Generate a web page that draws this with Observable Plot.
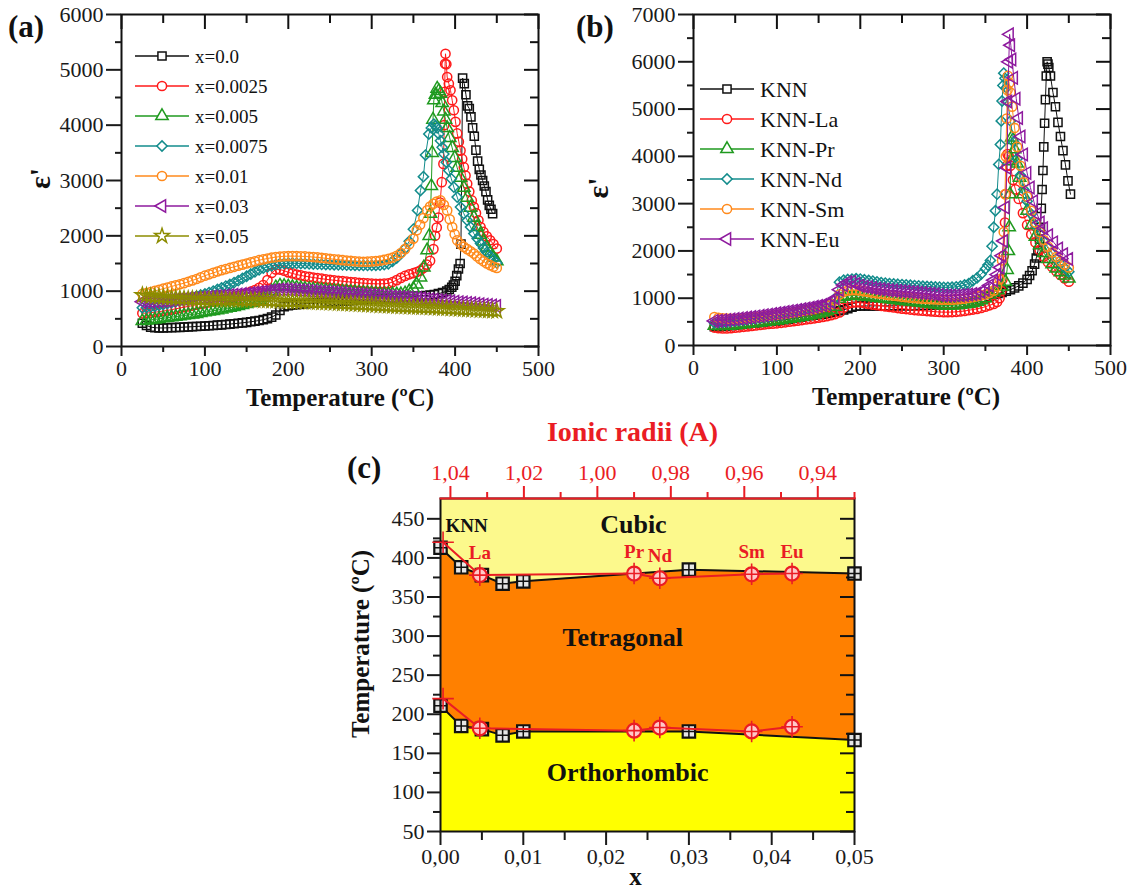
<!DOCTYPE html>
<html><head><meta charset="utf-8">
<script src="https://cdn.jsdelivr.net/npm/d3@7"></script>
<script src="https://cdn.jsdelivr.net/npm/@observablehq/plot@0.6"></script>
<style>
body{margin:0;background:#fff;}
#fig{position:relative;width:1134px;height:890px;overflow:hidden;background:#fff;font-family:"Liberation Serif","Times New Roman",serif;color:#111;}
#fig svg, #fig svg text{font-family:"Liberation Serif","Times New Roman",serif !important;}
.panel{position:absolute;}
.panel svg{overflow:visible;}
.letter{position:absolute;font-weight:bold;font-size:31px;line-height:31px;font-family:"Liberation Serif",serif;color:#111;}
</style></head><body><div id="fig"></div>
<script>
// ---------------- DATA ----------------
const T_FLAT = [25,30,35,40,45,50,55,60,65,70,75,80,85,90,95,100,105,110,115,120,125,130,135,140,145,150,155,160,165,170,175,180,185,190,195,200,205,210,215,220,225,230,235,240,245,250,255,260,265,270,275,280,285,290,295,300,305,310,315,320,325,330,335,340,345,350];

// Panel (a)
const A_LABELS = ["x=0.0","x=0.0025","x=0.005","x=0.0075","x=0.01","x=0.03","x=0.05"];
const A_COLORS = ["#111111","#ff1a1a","#1f9a1f","#138c8c","#ff8a1c","#8e1a9e","#8c8c00"];
const A_SYMBOLS = ["square","circle","triangle","diamond2","circle","triangle","star"];
const A_ROTATE = [0,0,0,0,0,-90,0];

const A_x00_flat = [420,380,350,340,335, 335,338,340,343,346, 350,354,358,362,366, 370,375,380,386,392, 398,405,412,420,428, 437,447,458,470,485, 505,530,570,650,720, 740,750,758,765,772, 778,784,790,795,800, 805,810,815,820,825, 830,835,840,845,850, 855,860,865,870,875, 880,885,890,895,900, 905];
const A_x00_rest = [[355,910],[360,915],[365,920],[370,930],[375,940],[380,955],[385,975],[390,1000],[393,1030],[396,1070],[398,1110],[400,1180],[402,1280],[404,1400],[406,1500],[407,1850],[409,4850],[411,4750],[413,4550],[415,4350],[417,4300],[419,4150],[421,3950],[423,3800],[425,3550],[427,3350],[429,3200],[431,3100],[433,3000],[435,2900],[437,2800],[439,2650],[441,2550],[443,2480],[445,2400]];

const A_x0025_flat = [600,605,612,620,630, 640,652,665,680,695, 710,725,740,755,768, 780,795,810,826,842, 858,875,893,912,935, 960,990,1020,1060,1110, 1200,1330,1390,1390,1370, 1340,1320,1300,1285,1270, 1258,1246,1235,1225,1215, 1205,1196,1188,1180,1172, 1165,1158,1150,1145,1140, 1135,1133,1133,1135,1140, 1165,1200,1240,1275,1305, 1325];
const A_x0025_rest = [[354,1345],[358,1370],[362,1420],[366,1480],[370,1550],[374,1760],[376,2000],[378,2150],[380,2330],[382,2600],[384,2970],[386,3300],[387,4000],[387.5,4600],[388,5110],[388.5,5290],[389.5,5100],[390.5,4870],[392.5,4750],[394.5,4630],[396.5,4450],[398.5,4270],[400.5,4060],[402.5,3850],[404.5,3700],[406.5,3540],[408.5,3390],[410.5,3240],[412.5,3090],[414.5,2940],[417,2800],[420,2640],[422.5,2520],[425,2410],[428,2280],[430.5,2160],[434,2070],[438,1990],[442,1920],[446,1850],[450,1770]];

const A_x005_flat = [460,470,480,490,500, 510,520,530,540,550, 560,570,580,590,605, 620,632,645,658,672, 686,700,716,732,750, 770,790,815,845,880, 930,1000,1070,1100,1095, 1085,1075,1065,1055,1045, 1038,1031,1025,1020,1015, 1010,1005,1000,995,990, 985,980,975,970,965, 960,955,950,947,945, 944,943,945,960,1000, 1045];
const A_x005_rest = [[354,1120],[358.5,1250],[362.5,1430],[366.5,1740],[369,2000],[370.5,2400],[371.5,2900],[372.5,3500],[373.5,4100],[374.5,4450],[376.5,4550],[378.5,4660],[380.5,4620],[382.5,4570],[384.5,4400],[386.5,4250],[388.5,4100],[390.5,3950],[393.5,3770],[396.5,3590],[399.5,3410],[402.5,3230],[406.5,3050],[410.5,2870],[414.5,2690],[418.5,2510],[422.5,2330],[426.5,2160],[430,2020],[434,1900],[438,1790],[442,1690],[446,1610],[450,1540]];

const A_x0075_flat = [700,705,715,728,742, 758,775,792,810,830, 850,870,890,910,930, 950,975,1000,1030,1060, 1090,1120,1155,1190,1230, 1270,1310,1350,1385,1415, 1440,1460,1480,1495,1500, 1505,1505,1503,1500,1497, 1494,1491,1488,1485,1482, 1480,1478,1476,1474,1472, 1470,1468,1466,1465,1465, 1466,1468,1472,1480,1495, 1540,1600,1680,1770,1900, 2120];
const A_x0075_rest = [[355,2460],[358.5,2820],[362,3070],[364.5,3460],[368.5,3840],[371.5,3950],[374.5,4020],[376.5,3990],[378.5,3950],[380.5,3840],[382.5,3720],[384.5,3600],[386.5,3480],[389.5,3330],[392.5,3180],[395.5,3030],[398.5,2880],[402.5,2700],[406.5,2520],[410.5,2400],[414.5,2280],[418.5,2160],[422.5,2040],[426.5,1950],[430.5,1860],[434,1780],[438,1700],[442,1630],[446,1570],[450,1510]];

const A_x001_flat = [950,965,985,1005,1025, 1045,1065,1085,1105,1125, 1145,1170,1195,1220,1250, 1280,1305,1330,1355,1380, 1400,1420,1440,1460,1480, 1500,1520,1540,1560,1575, 1590,1605,1615,1625,1630, 1632,1633,1632,1630,1627, 1622,1616,1610,1602,1594, 1585,1577,1569,1561,1553, 1546,1540,1535,1532,1533, 1537,1543,1552,1565,1582, 1605,1640,1690,1760,1850, 1950];
const A_x001_rest = [[354,2100],[358,2200],[362,2320],[366.5,2460],[370,2530],[374,2580],[378,2620],[382.5,2640],[386.5,2560],[390.5,2460],[393.5,2300],[396.5,2160],[399.5,2030],[402.5,1920],[406.5,1850],[410.5,1800],[414.5,1760],[418.5,1720],[422.5,1680],[426,1630],[430,1580],[434,1540],[438,1500],[442,1470],[446,1440],[450,1420]];

const A_x003_flat = [810,812,815,820,825, 830,836,842,848,854, 860,866,872,878,884, 890,896,902,908,914, 920,927,934,941,948, 955,963,971,980,990, 1000,1010,1020,1028,1030, 1028,1025,1020,1015,1010, 1005,1000,995,990,985, 980,975,970,965,960, 955,950,945,940,935, 930,925,920,915,910, 905,900,895,890,885, 880];
const A_x003_rest = [[355,875],[360,868],[365,860],[370,852],[375,845],[380,838],[385,831],[390,824],[395,817],[400,810],[405,802],[410,795],[415,788],[420,780],[425,772],[430,764],[435,756],[440,748],[445,740],[450,730]];

const A_x005b_flat = [930,920,910,902,896, 890,885,880,875,870, 865,862,859,856,853, 850,849,848,847,846, 845,844,843,842,841, 840,838,836,834,832, 830,827,824,821,818, 815,813,811,809,807, 805,802,799,796,793, 790,786,782,778,774, 770,766,762,758,754, 750,746,742,738,734, 730,727,724,721,718, 715];
const A_x005b_rest = [[355,712],[360,709],[365,706],[370,703],[375,700],[380,696],[385,692],[390,688],[395,684],[400,680],[405,676],[410,672],[415,668],[420,664],[425,660],[430,656],[435,652],[440,648],[445,644],[450,640]];

// Panel (b)
const B_LABELS = ["KNN","KNN-La","KNN-Pr","KNN-Nd","KNN-Sm","KNN-Eu"];
const B_COLORS = ["#111111","#ff1a1a","#1f9a1f","#138c8c","#ff8a1c","#8e1a9e"];
const B_SYMBOLS = ["square","circle","triangle","diamond2","circle","triangle"];
const B_ROTATE = [0,0,0,0,0,-90];

const B_KNN_flat = [400,400,405,412,420, 430,440,450,460,470, 480,490,500,510,515, 520,532,545,558,572, 586,600,615,630,640, 650,665,680,700,720, 735,755,780,810,830, 835,836,837,838,838, 838,838,839,839,840, 840,841,842,843,845, 847,849,851,854,857, 860,865,872,880,890, 902,915,930,950,975, 1000];
const B_KNN_rest = [[355,1040],[360,1080],[365,1100],[370,1120],[375,1150],[380,1180],[385,1220],[390,1260],[395,1320],[400,1400],[403,1480],[406,1580],[409,1720],[411,1850],[413,2000],[415,2250],[416,2500],[417,2900],[418,3300],[419,3700],[420,4200],[421,4700],[422,5200],[423,5700],[424,6000],[425,5950],[426,5880],[428,5700],[431,5350],[434,5050],[437,4720],[440,4420],[443,4120],[446,3820],[449,3480],[452,3200]];

const B_La_flat = [380,365,360,360,365, 375,385,395,405,415, 425,435,445,455,462, 470,480,490,502,514, 526,538,550,562,575, 590,605,620,640,665, 700,800,880,905,913, 910,895,880,865,852, 840,828,816,804,792, 780,770,760,750,742, 735,728,722,715,708, 705,705,707,712,720, 730,745,760,775,795, 820];
const B_La_rest = [[355,850],[360,880],[364,920],[367,1000],[369,1150],[370.5,1400],[372,1900],[373.5,2600],[374.5,3200],[375.5,3800],[376.5,4050],[378,4000],[380,3800],[383,3500],[386,3300],[390,3100],[395,2800],[400,2550],[405,2350],[410,2180],[415,2020],[420,1880],[425,1760],[430,1660],[435,1570],[440,1490],[445,1420],[450,1350]];

const B_Pr_flat = [420,415,415,418,424, 430,440,450,460,470, 480,490,500,510,520, 530,542,555,568,582, 596,610,625,640,658, 678,700,725,760,820, 990,1030,1050,1058,1055, 1050,1040,1030,1020,1010, 1000,990,980,970,960, 950,940,930,920,910, 900,890,880,870,860, 850,848,850,855,862, 872,885,900,925,960, 1000];
const B_Pr_rest = [[355,1080],[360,1130],[365,1170],[370,1250],[374,1350],[376,1600],[377.5,2000],[378.5,2500],[379.5,3200],[380.5,3900],[381.5,4400],[383,4350],[385,4150],[388,3850],[391,3550],[395,3200],[400,2850],[405,2550],[410,2300],[415,2120],[420,1960],[425,1830],[430,1720],[435,1630],[440,1550],[445,1480],[450,1420]];

const B_Nd_flat = [480,485,492,500,510, 520,530,540,552,564, 576,588,600,613,626, 640,655,670,686,702, 718,735,752,770,790, 810,832,860,900,1000, 1340,1380,1395,1405,1412, 1405,1390,1375,1360,1345, 1330,1320,1310,1302,1295, 1288,1281,1274,1267,1260, 1254,1248,1243,1238,1233, 1230,1230,1232,1240,1255, 1280,1310,1370,1430,1510, 1620];
const B_Nd_rest = [[353,1700],[356,1800],[358,2100],[360,2500],[362,2850],[364,3200],[366,3830],[368,4250],[369,4750],[370,5170],[371,5500],[372,5760],[373.5,5650],[375,5450],[377,5150],[380,4750],[384,4300],[388,3950],[392,3600],[396,3300],[400,3050],[405,2780],[410,2550],[415,2360],[420,2200],[425,2060],[430,1940],[435,1830],[440,1730],[445,1640],[450,1560]];

const B_Sm_flat = [600,585,575,568,563, 560,565,572,580,590, 600,610,620,630,640, 650,662,675,688,702, 716,730,745,762,780, 800,822,848,880,950, 1080,1130,1160,1170,1170, 1160,1145,1130,1115,1100, 1090,1078,1066,1055,1043, 1030,1020,1012,1004,997, 990,984,978,973,970, 968,968,970,975,982, 992,1005,1020,1040,1060, 1080];
const B_Sm_rest = [[355,1110],[360,1160],[364,1250],[367,1400],[370,1800],[372,2400],[373.5,3200],[374.5,4000],[375.5,4800],[376.5,5400],[377,5700],[378.5,5550],[380,5350],[382,5050],[385,4600],[388,4200],[392,3800],[396,3450],[400,3150],[405,2850],[410,2600],[415,2400],[420,2230],[425,2090],[430,1970],[435,1870],[440,1780],[445,1710],[450,1650]];

const B_Eu_flat = [520,525,532,540,550, 560,570,580,592,604, 616,628,640,653,666, 680,694,708,722,737, 752,768,784,800,818, 836,856,880,920,1000, 1180,1280,1340,1345,1300, 1265,1245,1230,1215,1200, 1190,1180,1170,1162,1155, 1148,1140,1132,1124,1116, 1108,1100,1092,1084,1070, 1060,1058,1058,1060,1065, 1070,1078,1088,1100,1130, 1180];
const B_Eu_rest = [[355,1270],[360,1380],[364,1500],[368,1650],[370,1900],[372,2210],[374,2920],[376,3760],[377,5160],[378,6000],[379,6580],[380.5,6350],[382,6050],[384,5660],[387,5220],[390,4810],[393,4420],[396,4040],[400,3650],[404,3340],[408,3050],[412,2780],[416,2600],[420,2480],[426,2330],[432,2180],[438,2050],[444,1930],[450,1830]];

// Ticks (a) & (b)
const AB_XTICKS = [0,100,200,300,400,500];
const AB_XMINOR = [50,150,250,350,450];
const A_YTICKS = [0,1000,2000,3000,4000,5000,6000];
const A_YMINOR = [500,1500,2500,3500,4500,5500];
const B_YTICKS = [0,1000,2000,3000,4000,5000,6000,7000];
const B_YMINOR = [500,1500,2500,3500,4500,5500,6500];

// Panel (c)
const C_X = [0, 0.0025, 0.005, 0.0075, 0.01, 0.03, 0.05];
const C_TC = [413, 388, 378, 367, 370, 385, 380];
const C_TOT = [211, 185, 181, 173, 178, 178, 167];
const R_LABELS = ["KNN","La","Pr","Nd","Sm","Eu"];
const R_RADII = [1.042, 1.032, 0.990, 0.983, 0.958, 0.947];
const R_TC = [420, 378, 380, 374, 379, 380];
const R_TOT = [220, 182, 179, 183, 178, 184];
const C_XTICKS = [0, 0.01, 0.02, 0.03, 0.04, 0.05];
const C_XMINOR = [0.005, 0.015, 0.025, 0.035, 0.045];
const C_YTICKS = [50,100,150,200,250,300,350,400,450];
const C_YMINOR = [75,125,175,225,275,325,375,425];
const R_TICKS = [1.04, 1.02, 1.00, 0.98, 0.96, 0.94];
const R_MINOR = [1.03, 1.01, 0.99, 0.97, 0.95, 0.93];
const PHASE_LABELS = [
  {text:"Cubic", x:0.0233, T:443},
  {text:"Tetragonal", x:0.0220, T:298},
  {text:"Orthorhombic", x:0.0226, T:125}
];
const KNN_LABEL = [{text:"KNN", x:0.0006, T:441}];

// ---------------- BUILD ----------------
const fig = document.getElementById("fig");
const FONT = "'Liberation Serif', serif";
const RED = "#ea1c24";
function mkSeries(flat, rest) {
  return T_FLAT.map((T, i) => ({T, E: flat[i]})).concat(rest.map(([T, E]) => ({T, E})));
}
const A_DATA = [
  mkSeries(A_x00_flat, A_x00_rest), mkSeries(A_x0025_flat, A_x0025_rest),
  mkSeries(A_x005_flat, A_x005_rest), mkSeries(A_x0075_flat, A_x0075_rest),
  mkSeries(A_x001_flat, A_x001_rest), mkSeries(A_x003_flat, A_x003_rest),
  mkSeries(A_x005b_flat, A_x005b_rest)
];
const B_DATA = [
  mkSeries(B_KNN_flat, B_KNN_rest), mkSeries(B_La_flat, B_La_rest),
  mkSeries(B_Pr_flat, B_Pr_rest), mkSeries(B_Nd_flat, B_Nd_rest),
  mkSeries(B_Sm_flat, B_Sm_rest), mkSeries(B_Eu_flat, B_Eu_rest)
];

function place(el, left, top) {
  const d = document.createElement("div");
  d.className = "panel"; d.style.left = left + "px"; d.style.top = top + "px";
  d.appendChild(el); fig.appendChild(d); return d;
}
function letter(txt, left, top) {
  const d = document.createElement("div");
  d.className = "letter"; d.style.left = left + "px"; d.style.top = top + "px";
  d.textContent = txt; fig.appendChild(d);
}

function epsPanel(cfg) {
  const innerW = cfg.width - cfg.ml - cfg.mr, innerH = cfg.height - cfg.mt - cfg.mb;
  const marks = [];
  cfg.data.forEach((d, i) => {
    marks.push(Plot.line(d, {x: "T", y: "E", stroke: cfg.colors[i], strokeWidth: 1}));
    marks.push(Plot.dot(d, {x: "T", y: "E", symbol: cfg.symbols[i], rotate: cfg.rotate[i], r: 4.6,
      stroke: cfg.colors[i], strokeWidth: 1.5, fill: "none"}));
  });
  marks.push(
    Plot.frame({stroke: "#111", strokeWidth: 2}),
    Plot.axisX({ticks: AB_XTICKS, tickSize: 10, tickPadding: 4, strokeWidth: 2, tickFormat: d => String(d), label: null, fontSize: 22}),
    Plot.axisX({ticks: AB_XMINOR, tickSize: 6, strokeWidth: 2, tickFormat: () => "", label: null}),
    Plot.axisY({ticks: cfg.yTicks, tickSize: 15, tickPadding: 3, strokeWidth: 2, tickFormat: d => String(d), label: null, fontSize: 22}),
    Plot.axisY({ticks: cfg.yMinor, tickSize: 6, strokeWidth: 2, tickFormat: () => "", label: null}),
    Plot.tickX(AB_XTICKS, {x: d => d, insetBottom: innerH - 15, stroke: "#111", strokeWidth: 2}),
    Plot.tickX(AB_XMINOR, {x: d => d, insetBottom: innerH - 9, stroke: "#111", strokeWidth: 2}),
    Plot.tickY(cfg.yTicks, {y: d => d, insetLeft: innerW - 14, stroke: "#111", strokeWidth: 2}),
    Plot.tickY(cfg.yMinor, {y: d => d, insetLeft: innerW - 8, stroke: "#111", strokeWidth: 2}),
    Plot.text(["Temperature (ºC)"], {text: d => d, frameAnchor: "bottom", dy: 51, dx: cfg.xLabelDx, textAnchor: "middle", lineAnchor: "middle", fontSize: 25, fontWeight: "bold", fill: "#111"}),
    Plot.text(["ε'"], {text: d => d, frameAnchor: "left", dx: cfg.yLabelDx, dy: cfg.yLabelDy, rotate: -90, textAnchor: "middle", lineAnchor: "middle", fontSize: 30, fontWeight: "bold", fill: "#111"})
  );
  return Plot.plot({
    width: cfg.width, height: cfg.height,
    marginLeft: cfg.ml, marginRight: cfg.mr, marginTop: cfg.mt, marginBottom: cfg.mb,
    x: {domain: [0, 500]}, y: {domain: cfg.yDomain},
    style: {fontFamily: FONT, fontSize: "22px", color: "#1a1a1a", background: "transparent", overflow: "visible"},
    marks
  });
}

const SYM = {square: d3.symbolSquare, circle: d3.symbolCircle, triangle: d3.symbolTriangle, diamond2: d3.symbolDiamond2, star: d3.symbolStar};
function legend(labels, colors, symbols, rotate, left, top, rowH, fontSize) {
  const svg = d3.create("svg").attr("width", 240).attr("height", rowH * labels.length + 20)
    .style("position", "absolute").style("left", left + "px").style("top", top + "px").style("overflow", "visible");
  labels.forEach((lab, i) => {
    const g = svg.append("g").attr("transform", `translate(0,${10 + i * rowH})`);
    g.append("line").attr("x1", 0).attr("x2", 54).attr("stroke", colors[i]).attr("stroke-width", 1.6);
    g.append("path").attr("d", d3.symbol(SYM[symbols[i]], Math.PI * 4.6 * 4.6)())
      .attr("transform", `translate(27,0) rotate(${rotate[i]})`)
      .attr("fill", "white").attr("stroke", colors[i]).attr("stroke-width", 1.5);
    g.append("text").attr("x", 60).attr("dy", "0.35em").attr("font-size", fontSize)
      .attr("fill", "#111").text(lab);
  });
  fig.appendChild(svg.node());
}

// (a)
place(epsPanel({data: A_DATA, colors: A_COLORS, symbols: A_SYMBOLS, rotate: A_ROTATE,
  width: 560, height: 420, ml: 121, mr: 22, mt: 14, mb: 74, yDomain: [0, 6000],
  yTicks: A_YTICKS, yMinor: A_YMINOR, xLabelDx: 10, yLabelDx: -81, yLabelDy: -2}), 0, 0);
legend(A_LABELS, A_COLORS, A_SYMBOLS, A_ROTATE, 135, 46, 30, 19);
letter("(a)", 8, 11);

// (b)
place(epsPanel({data: B_DATA, colors: B_COLORS, symbols: B_SYMBOLS, rotate: B_ROTATE,
  width: 574, height: 420, ml: 133, mr: 24, mt: 14, mb: 75, yDomain: [0, 7000],
  yTicks: B_YTICKS, yMinor: B_YMINOR, xLabelDx: 4, yLabelDx: -95, yLabelDy: 8}), 560, 0);
legend(B_LABELS, B_COLORS, B_SYMBOLS, B_ROTATE, 700, 79, 30, 22);
letter("(b)", 576, 11);

// (c)
const C_BLACK = C_X.map((x, i) => ({x, up: C_TC[i], low: C_TOT[i]}));
const C_RED = R_LABELS.map((name, i) => ({name, r: R_RADII[i], up: R_TC[i], low: R_TOT[i]}));
const CW = 560, CH = 490, CML = 110, CMR = 36, CMT = 98, CMB = 59;
const cInnerW = CW - CML - CMR, cInnerH = CH - CMT - CMB;
const comma = d => d.toFixed(2).replace(".", ",");

const plotC = Plot.plot({
  width: CW, height: CH, marginLeft: CML, marginRight: CMR, marginTop: CMT, marginBottom: CMB,
  x: {domain: [0, 0.05]}, y: {domain: [50, 476]},
  style: {fontFamily: FONT, fontSize: "22px", color: "#1a1a1a", background: "transparent", overflow: "visible"},
  marks: [
    Plot.frame({fill: "#fcf98c"}),
    Plot.areaY(C_BLACK, {x: "x", y1: "low", y2: "up", fill: "#ff8000"}),
    Plot.areaY(C_BLACK, {x: "x", y1: 50, y2: "low", fill: "#ffff00"}),
    Plot.line(C_BLACK, {x: "x", y: "up", stroke: "#111", strokeWidth: 2}),
    Plot.line(C_BLACK, {x: "x", y: "low", stroke: "#111", strokeWidth: 2}),
    Plot.dot(C_BLACK, {x: "x", y: "up", symbol: "square", r: 7, fill: "#e6e6e6", stroke: "#111", strokeWidth: 2.2}),
    Plot.dot(C_BLACK, {x: "x", y: "low", symbol: "square", r: 7, fill: "#e6e6e6", stroke: "#111", strokeWidth: 2.2}),
    Plot.dot(C_BLACK, {x: "x", y: "up", symbol: "plus", r: 4, stroke: "#111", strokeWidth: 1.5}),
    Plot.dot(C_BLACK, {x: "x", y: "low", symbol: "plus", r: 4, stroke: "#111", strokeWidth: 1.5}),
    Plot.frame({stroke: "#111", strokeWidth: 2}),
    Plot.axisX({ticks: C_XTICKS, tickSize: 14, tickPadding: 3, strokeWidth: 2, tickFormat: comma, label: null, fontSize: 22}),
    Plot.axisX({ticks: C_XMINOR, tickSize: 9, strokeWidth: 2, tickFormat: () => "", label: null}),
    Plot.axisY({ticks: C_YTICKS, tickSize: 13, tickPadding: 3, strokeWidth: 2, tickFormat: d => String(d), label: null, fontSize: 22}),
    Plot.axisY({ticks: C_YMINOR, tickSize: 7, strokeWidth: 2, tickFormat: () => "", label: null}),
    Plot.tickY(C_YTICKS, {y: d => d, insetLeft: cInnerW - 14, stroke: "#111", strokeWidth: 2}),
    Plot.tickY(C_YMINOR, {y: d => d, insetLeft: cInnerW - 8, stroke: "#111", strokeWidth: 2}),
    Plot.text(PHASE_LABELS, {x: "x", y: "T", text: "text", fontSize: 26, fontWeight: "bold", fill: "#111", lineAnchor: "middle"}),
    Plot.text(KNN_LABEL, {x: "x", y: "T", text: "text", fontSize: 19, fontWeight: "bold", fill: "#111", textAnchor: "start", lineAnchor: "middle"}),
    Plot.text(["Temperature (ºC)"], {text: d => d, frameAnchor: "left", dx: -80, dy: -21, rotate: -90, textAnchor: "middle", lineAnchor: "middle", fontSize: 25, fontWeight: "bold", fill: "#111"}),
    Plot.text(["x"], {text: d => d, frameAnchor: "bottom", dy: 45, dx: -12, textAnchor: "middle", lineAnchor: "middle", fontSize: 25, fontWeight: "bold", fill: "#111"})
  ]
});

const plotR = Plot.plot({
  width: CW, height: CH, marginLeft: CML, marginRight: CMR, marginTop: CMT, marginBottom: CMB,
  x: {domain: [1.0427, 0.93]}, y: {domain: [50, 476], axis: null},
  style: {fontFamily: FONT, fontSize: "22px", color: RED, background: "transparent", overflow: "visible"},
  marks: [
    Plot.line(C_RED, {x: "r", y: "up", stroke: RED, strokeWidth: 2}),
    Plot.line(C_RED, {x: "r", y: "low", stroke: RED, strokeWidth: 2}),
    Plot.dot(C_RED.slice(1), {x: "r", y: "up", r: 7, fill: "#ffc8c8", stroke: RED, strokeWidth: 2.2}),
    Plot.dot(C_RED.slice(1), {x: "r", y: "low", r: 7, fill: "#ffc8c8", stroke: RED, strokeWidth: 2.2}),
    Plot.dot(C_RED, {x: "r", y: "up", symbol: "plus", r: 7, stroke: RED, strokeWidth: 1.6}),
    Plot.dot(C_RED, {x: "r", y: "low", symbol: "plus", r: 7, stroke: RED, strokeWidth: 1.6}),
    Plot.text(C_RED.slice(1), {x: "r", y: "up", text: "name", dy: -22, fontSize: 19, fontWeight: "bold", fill: RED, lineAnchor: "middle"}),
    Plot.frame({anchor: "top", stroke: RED, strokeWidth: 2}),
    Plot.axisX({anchor: "top", ticks: R_TICKS, tickSize: 13, tickPadding: 6, strokeWidth: 2, stroke: RED, fill: RED, tickFormat: comma, label: null, fontSize: 22}),
    Plot.axisX({anchor: "top", ticks: R_MINOR, tickSize: 7, strokeWidth: 2, stroke: RED, tickFormat: () => "", label: null}),
    Plot.text(["Ionic radii (A)"], {text: d => d, frameAnchor: "top", dy: -66, dx: -15, textAnchor: "middle", lineAnchor: "middle", fontSize: 28, fontWeight: "bold", fill: RED})
  ]
});

const cWrap = document.createElement("div");
cWrap.style.position = "relative"; cWrap.style.width = CW + "px"; cWrap.style.height = CH + "px";
plotC.style.position = "absolute"; plotC.style.left = "0px"; plotC.style.top = "0px";
plotR.style.position = "absolute"; plotR.style.left = "0px"; plotR.style.top = "0px";
cWrap.appendChild(plotC); cWrap.appendChild(plotR);
place(cWrap, 330, 400);
letter("(c)", 347, 452);
</script></body></html>
